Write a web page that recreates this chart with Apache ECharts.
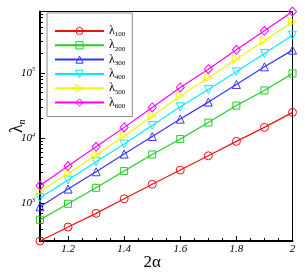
<!DOCTYPE html>
<html><head><meta charset="utf-8">
<script src="https://cdn.jsdelivr.net/npm/echarts@6/dist/echarts.min.js"></script>
<style>html,body{margin:0;padding:0;background:#fff}#c{width:305px;height:272px}</style>
</head><body><div id="c"></div>
<script>
const alpha2 = [1.1, 1.2, 1.3, 1.4, 1.5, 1.6, 1.7, 1.8, 1.9, 2.0];
const lambda100 = [265, 434, 703, 1176, 1962, 3236, 5357, 8900, 14590, 24750];
const lambda200 = [561, 986, 1733, 3124, 5610, 9660, 17270, 31470, 53750, 97900];
const lambda300 = [887, 1656, 3048, 5690, 10580, 19540, 35580, 66400, 123600, 222700];
const lambda400 = [1218, 2274, 4338, 8095, 15600, 30150, 55700, 103600, 198300, 377800];
const lambda500 = [1527, 2879, 5490, 10730, 21730, 44440, 83800, 162300, 309000, 603600];
const lambda600 = [1874, 3726, 7360, 14590, 29500, 59760, 113900, 224900, 439700, 870000];
const seriesNames = ['λ100', 'λ200', 'λ300', 'λ400', 'λ500', 'λ600'];
const xMajorTicks = [1.2, 1.4, 1.6, 1.8, 2];
const yMajorTicks = [1e3, 1e4, 1e5];
const xMin = 1.1, xMax = 2, yMin = 265, yMax = 870000;

const allSeries = [lambda100, lambda200, lambda300, lambda400, lambda500, lambda600];
const colors = ['#ee1111', '#22cc22', '#3535ff', '#00eeff', '#f4f400', '#ff00ff'];
const symbols = ['circle', 'rect', 'triangle', 'triangle', 'triangle', 'diamond'];
const symSizes = [8, 7, 8, 8, 8, [8, 9]];
const symRot = [0, 0, 0, 180, -90, 0];

// minor ticks
const xMinor = [];
for (let k = 22; k <= 40; k++) { const v = k * 0.05; if (k % 4 !== 0) xMinor.push(+v.toFixed(2)); }
const yMinor = [];
for (let d = 2; d <= 5; d++) for (let m = 2; m <= 9; m++) { const v = m * Math.pow(10, d); if (v >= yMin && v <= yMax) yMinor.push(Math.log10(v)); }

const serif = 'Liberation Serif';
const gridRect = { left: 40, top: 11.5, right: 12.5, bottom: 31, containLabel: false, outerBoundsMode: 'none' };

const chart = echarts.init(document.getElementById('c'), null, { renderer: 'canvas' });
chart.setOption({
  animation: false,
  backgroundColor: '#fff',
  grid: [
    Object.assign({ show: true, borderColor: '#000', borderWidth: 1, backgroundColor: 'transparent' }, gridRect),
    Object.assign({ show: false }, gridRect)
  ],
  legend: {
    orient: 'vertical', align: 'left', left: 47, top: 13,
    itemWidth: 49, itemHeight: 9, itemGap: 1.3,
    padding: [12, 7, 7, 7],
    backgroundColor: '#fff', borderColor: '#8c8c8c', borderWidth: 1, borderRadius: 0,
    itemStyle: { borderWidth: 1 },
    data: seriesNames,
    formatter: n => '{l|λ}{n|' + n.slice(1) + '}',
    textStyle: {
      rich: {
        l: { fontFamily: serif, fontSize: 12, lineHeight: 14, color: '#000' },
        n: { fontFamily: serif, fontSize: 7, lineHeight: 8, verticalAlign: 'bottom', color: '#000' }
      }
    }
  },
  xAxis: [
    {
      gridIndex: 0, type: 'value', min: xMin, max: xMax, position: 'bottom',
      axisLine: { show: true, onZero: false, lineStyle: { color: '#000', width: 2 } },
      axisTick: { show: true, inside: true, length: 5, customValues: xMajorTicks, lineStyle: { color: '#000', width: 1 } },
      axisLabel: { customValues: xMajorTicks, formatter: v => String(v), fontFamily: serif, fontStyle: 'italic', fontSize: 11, color: '#000', margin: 3 },
      splitLine: { show: false },
      name: '2α', nameLocation: 'middle', nameGap: 13, nameMoveOverlap: false,
      nameTextStyle: { fontFamily: serif, fontSize: 17, color: '#000', padding: [0, 28, 0, 0] }
    },
    {
      gridIndex: 1, type: 'value', min: xMin, max: xMax, position: 'bottom',
      axisLine: { show: false },
      axisTick: { show: true, inside: true, length: 3, customValues: xMinor, lineStyle: { color: '#000', width: 1 } },
      axisLabel: { show: false }, splitLine: { show: false }
    }
  ],
  yAxis: [
    {
      gridIndex: 0, type: 'value', min: Math.log10(yMin), max: Math.log10(yMax), position: 'left',
      axisLine: { show: true, onZero: false, lineStyle: { color: '#000', width: 2 } },
      axisTick: { show: true, inside: true, length: 5, customValues: yMajorTicks.map(Math.log10), lineStyle: { color: '#000', width: 1 } },
      axisLabel: {
        customValues: yMajorTicks.map(Math.log10), margin: 5,
        formatter: v => '{b|10}{s|' + Math.round(v) + '}',
        rich: {
          b: { fontFamily: serif, fontStyle: 'italic', fontSize: 11, lineHeight: 12, color: '#000' },
          s: { fontFamily: serif, fontStyle: 'italic', fontSize: 6, lineHeight: 7, verticalAlign: 'top', color: '#000' }
        }
      },
      splitLine: { show: false },
      name: '{l|λ}{n|n}', nameLocation: 'middle', nameGap: 13, nameMoveOverlap: false,
      nameTextStyle: {
        rich: {
          l: { fontFamily: serif, fontSize: 18, lineHeight: 20, color: '#000' },
          n: { fontFamily: serif, fontStyle: 'italic', fontSize: 10, lineHeight: 10, verticalAlign: 'bottom', color: '#000' }
        }
      }
    },
    {
      gridIndex: 1, type: 'value', min: Math.log10(yMin), max: Math.log10(yMax), position: 'left',
      axisLine: { show: false },
      axisTick: { show: true, inside: true, length: 3, customValues: yMinor, lineStyle: { color: '#000', width: 1 } },
      axisLabel: { show: false }, splitLine: { show: false }
    }
  ],
  series: allSeries.map((arr, i) => ({
    name: seriesNames[i], type: 'line', xAxisIndex: 0, yAxisIndex: 0,
    data: alpha2.map((x, j) => [x, Math.log10(arr[j])]),
    symbol: symbols[i], symbolSize: symSizes[i], symbolRotate: symRot[i],
    showAllSymbol: true, clip: false,
    lineStyle: { color: colors[i], width: 1.2 },
    itemStyle: { color: 'rgba(255,255,255,0)', borderColor: colors[i], borderWidth: 1 },
    emphasis: { disabled: true }
  }))
});
</script></body></html>
